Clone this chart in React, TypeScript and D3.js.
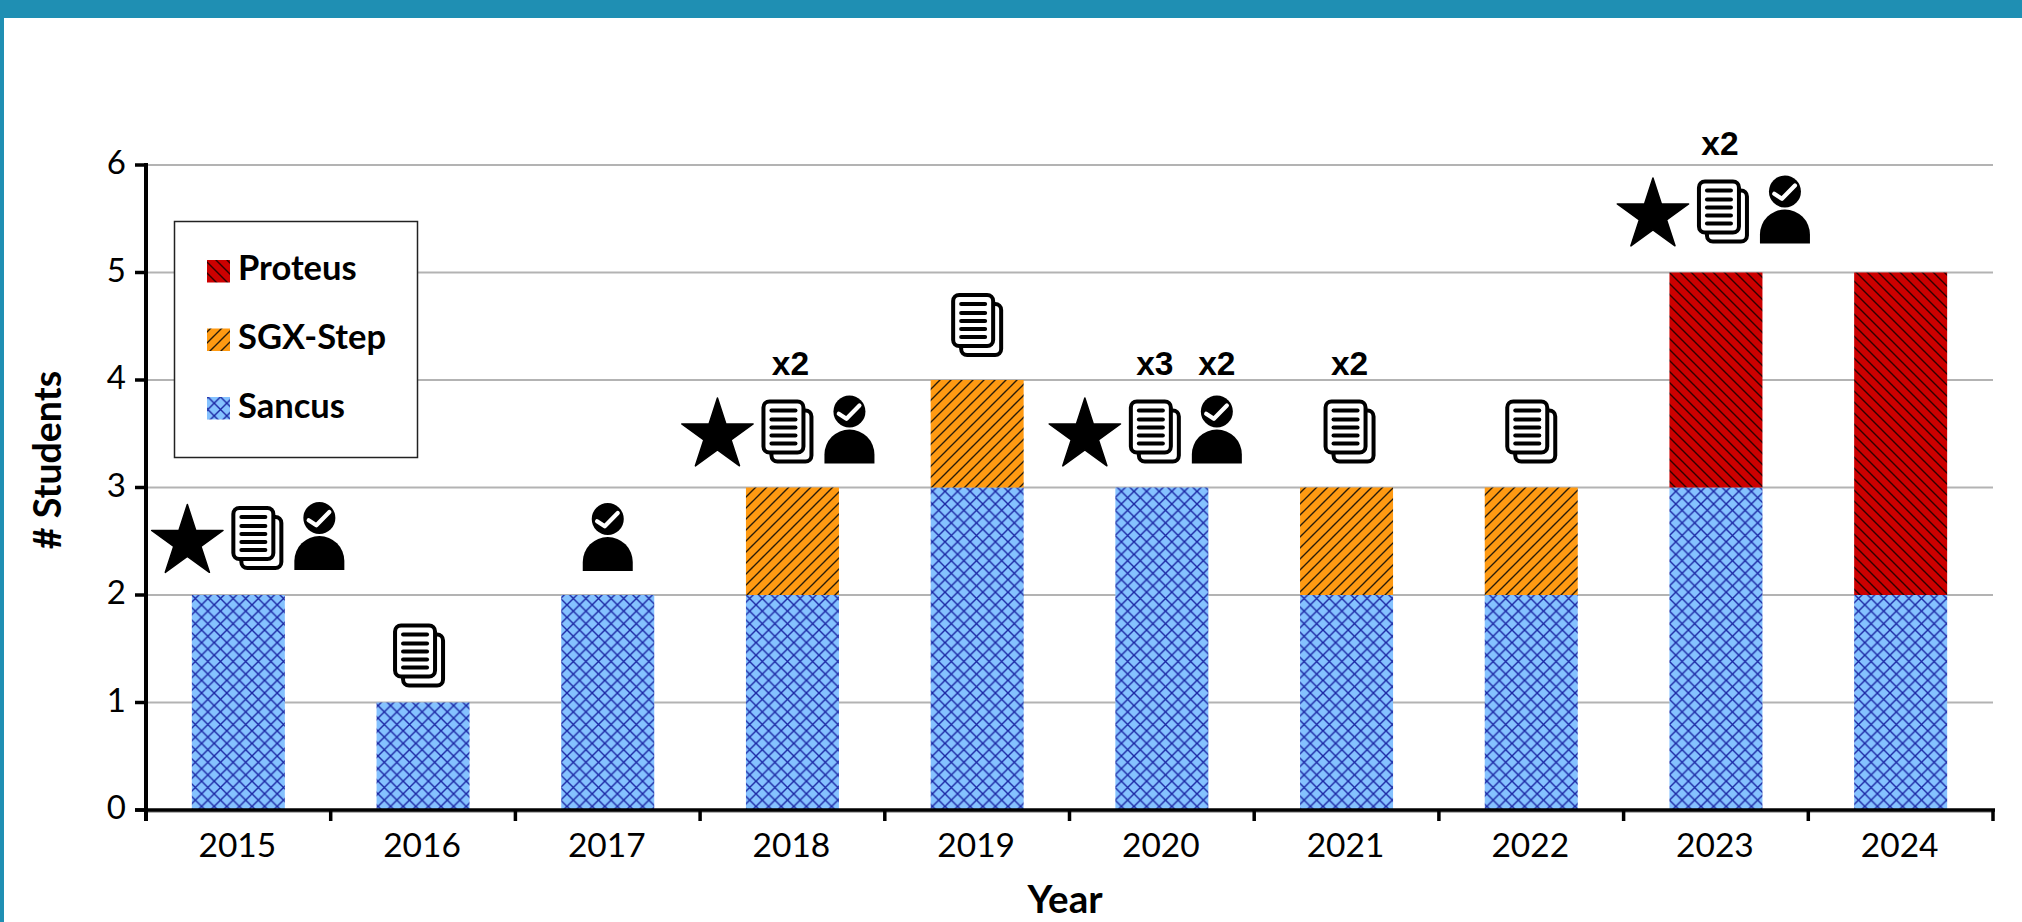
import React from "react";
import * as d3 from "d3";

const years = ["2015","2016","2017","2018","2019","2020","2021","2022","2023","2024"];
const sancus = [2,1,2,2,3,3,2,2,3,2];
const sgxStep = [0,0,0,1,1,0,1,1,0,0];
const proteus = [0,0,0,0,0,0,0,0,2,3];
const yTicks = [0,1,2,3,4,5,6];
const legendNames = ["Proteus","SGX-Step","Sancus"];

type IconKind = "star" | "docs" | "person";
const awards: { year: string; icons: IconKind[]; counts: (string | null)[] }[] = [
  { year: "2015", icons: ["star","docs","person"], counts: [] },
  { year: "2016", icons: ["docs"], counts: [] },
  { year: "2017", icons: ["person"], counts: [] },
  { year: "2018", icons: ["star","docs","person"], counts: [null,"x2",null] },
  { year: "2019", icons: ["docs"], counts: [] },
  { year: "2020", icons: ["star","docs","person"], counts: [null,"x3","x2"] },
  { year: "2021", icons: ["docs"], counts: ["x2"] },
  { year: "2022", icons: ["docs"], counts: [] },
  { year: "2023", icons: ["star","docs","person"], counts: [null,"x2",null] },
];

// layout: horizontal shift of each icon group's first icon centre from the band centre, gap above stack
const groupShift: Record<string, number> = { "2015": -51, "2016": -4, "2017": 0, "2018": -75, "2019": 0, "2020": -77, "2021": 3, "2022": 0, "2023": -63 };
const gapAbove: Record<string, number> = { "2015": 25, "2016": 15, "2017": 24, "2018": 24, "2019": 23, "2020": 24, "2021": 24, "2022": 24, "2023": 29 };
const iconStep: Record<IconKind, number> = { star: 70, docs: 62, person: 0 };
const labelShift: Record<string, number> = { "2018": 3, "2020": 0, "2021": 0, "2023": -3 };

const W = 2022, H = 922;
const left = 146, right = 1993, base = 810, top = 165;
const x = d3.scaleBand<string>().domain(years).range([left, right]);
const y = d3.scaleLinear().domain([0, 6]).range([base, top]);
const barW = 93;

const rows = years.map((yr, i) => ({ yr, Sancus: sancus[i], "SGX-Step": sgxStep[i], Proteus: proteus[i] }));
const stacked = d3.stack<any>().keys(["Sancus","SGX-Step","Proteus"])(rows);
const patternOf: Record<string, string> = { Sancus: "url(#pSancus)", "SGX-Step": "url(#pSgx)", Proteus: "url(#pProteus)" };

const starPath = d3.symbol(d3.symbolStar, 1580)()!;
const FONT = "Lato, sans-serif";

function Star({ cx, bottom }: { cx: number; bottom: number }) {
  return <path d={starPath} transform={`translate(${cx},${bottom - 28})`} fill="#000" stroke="#000" strokeWidth={1.5} strokeLinejoin="round" />;
}
function Docs({ cx, bottom }: { cx: number; bottom: number }) {
  const l = cx - 26, t = bottom - 64;
  const lines = [11, 20, 28, 36, 44];
  return (
    <g transform={`translate(${l},${t})`} stroke="#000" strokeWidth={4}>
      <rect x={10} y={11} width={40} height={51} rx={6} fill="#fff" />
      <rect x={2} y={2} width={40} height={51} rx={6} fill="#fff" />
      {lines.map(ly => <line key={ly} x1={10} x2={34} y1={ly} y2={ly} strokeLinecap="round" />)}
    </g>
  );
}
function Person({ cx, bottom }: { cx: number; bottom: number }) {
  const t = bottom - 68;
  return (
    <g transform={`translate(${cx - 25},${t})`}>
      <circle cx={25} cy={16} r={16} fill="#000" />
      <path d="M14.3 18.3L22 23.3L35 10" fill="none" stroke="#fff" strokeWidth={4.2} strokeLinecap="round" strokeLinejoin="round" />
      <path d="M0 68V59A25 25 0 0 1 50 59V68Z" fill="#000" />
    </g>
  );
}

export default function App() {
  const band = x.bandwidth();
  const stackTop = (yr: string) => {
    const i = years.indexOf(yr);
    return y(sancus[i] + sgxStep[i] + proteus[i]);
  };
  const ticksX = d3.range(years.length + 1).map(i => left + i * band);
  return (
    <svg width={W} height={H} style={{ position: "absolute", left: 0, top: 0, display: "block" }} fontFamily={FONT}>
      <defs>
        <pattern id="pSancus" width={12.6} height={12.6} patternUnits="userSpaceOnUse">
          <rect width={12.6} height={12.6} fill="#85c2ff" />
          <path d="M-1 -1L13.6 13.6M-1 13.6L13.6 -1" stroke="#1c28a4" strokeWidth={1.4} />
        </pattern>
        <pattern id="pSgx" width={11} height={11} patternUnits="userSpaceOnUse">
          <rect width={11} height={11} fill="#ff9a12" />
          <path d="M-1 12L12 -1M-3 3L3 -3M8 14L14 8" stroke="#2a1c08" strokeWidth={1.4} />
        </pattern>
        <pattern id="pProteus" width={11} height={11} patternUnits="userSpaceOnUse">
          <rect width={11} height={11} fill="#cc0000" />
          <path d="M-1 -1L12 12M-3 8L3 14M8 -3L14 3" stroke="#300000" strokeWidth={1.4} />
        </pattern>
      </defs>
      <rect width={W} height={H} fill="#fff" />
      <rect width={W} height={18} fill="#1f8fb3" />
      <rect width={4} height={H} fill="#1f8fb3" />

      {yTicks.map(t => <line key={t} x1={left} x2={right} y1={y(t) + (t === 0 ? 2 : 0)} y2={y(t) + (t === 0 ? 2 : 0)} stroke="#b3b3b3" strokeWidth={2} />)}

      {stacked.map(s => s.map((d, i) => d[1] > d[0] ? (
        <rect key={s.key + i} x={x(years[i])! + band / 2 - barW / 2} width={barW} y={y(d[1])} height={y(d[0]) - y(d[1])} fill={patternOf[s.key]} />
      ) : null))}

      <line x1={left} x2={left} y1={top - 2} y2={base + 11} stroke="#000" strokeWidth={4} />
      <line x1={left - 11} x2={right + 2} y1={base} y2={base} stroke="#000" strokeWidth={3.5} />
      {yTicks.map(t => <line key={t} x1={left - 11} x2={left} y1={y(t)} y2={y(t)} stroke="#000" strokeWidth={3.5} />)}
      {ticksX.map(t => <line key={t} x1={t} x2={t} y1={base} y2={base + 11} stroke="#000" strokeWidth={3.5} />)}

      {yTicks.map(t => <text key={t} x={126} y={y(t) + 9} textAnchor="end" fontSize={33} fill="#000">{t}</text>)}
      {years.map(yr => <text key={yr} x={x(yr)! + band / 2 - 1} y={857} textAnchor="middle" fontSize={33.5} fill="#000">{yr}</text>)}

      <text transform={`translate(61,460) rotate(-90)`} textAnchor="middle" fontSize={37.5} fontWeight={700} fill="#000"># Students</text>
      <text x={1065} y={913} textAnchor="middle" fontSize={38.5} fontWeight={700} fill="#000">Year</text>

      <rect x={174.5} y={221.5} width={243} height={236} fill="#fff" stroke="#222" strokeWidth={1.5} />
      {legendNames.map((n, i) => (
        <g key={n}>
          <rect x={207} y={260 + i * 68.5} width={23} height={22.5} fill={patternOf[n]} />
          <text x={238} y={280 + i * 68.8} fontSize={34.5} fontWeight={700} fill="#000">{n}</text>
        </g>
      ))}

      {awards.map(a => {
        const center = x(a.year)! + band / 2;
        const bottom = stackTop(a.year) - gapAbove[a.year];
        let cx = center + groupShift[a.year];
        return (
          <g key={a.year}>
            {a.icons.map((ic, k) => {
              const px = cx;
              cx += iconStep[ic];
              const label = a.counts[k];
              return (
                <g key={ic}>
                  {ic === "star" && <Star cx={px} bottom={bottom} />}
                  {ic === "docs" && <Docs cx={px} bottom={bottom} />}
                  {ic === "person" && <Person cx={px} bottom={bottom} />}
                  {label && <text x={px + (labelShift[a.year] ?? 0)} y={bottom - 89} textAnchor="middle" fontFamily="'Liberation Sans', sans-serif" fontWeight={700} fontSize={33.5} fill="#000">{label}</text>}
                </g>
              );
            })}
          </g>
        );
      })}
    </svg>
  );
}
